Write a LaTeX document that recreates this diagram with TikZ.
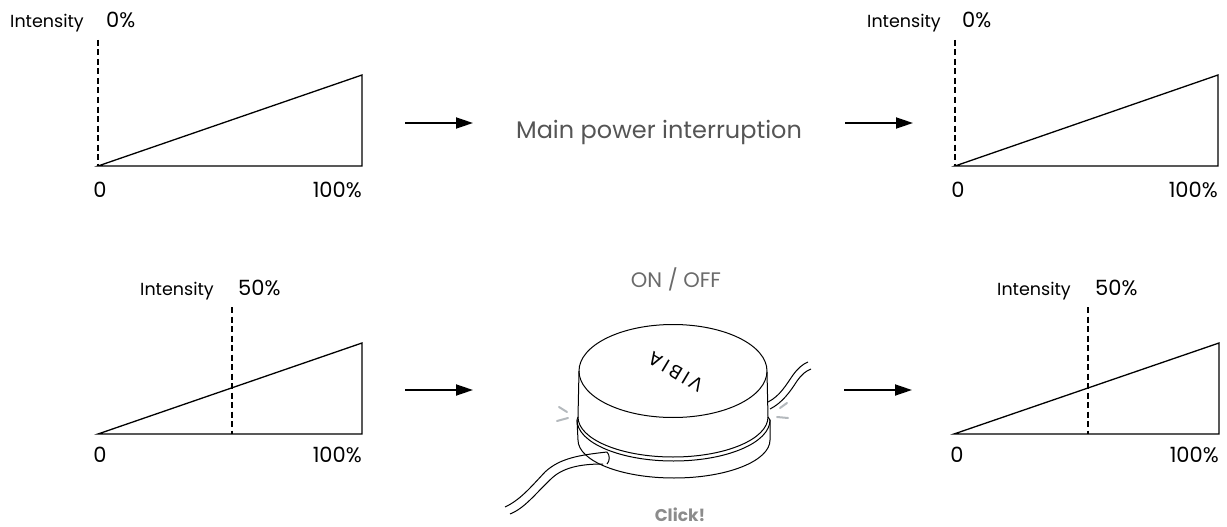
\documentclass[tikz,border=0pt]{standalone}
\usepackage{fontspec}
\setmainfont{Poppins}
\newfontfamily\logofont[LetterSpace=18]{Poppins}
\usetikzlibrary{arrows.meta}

\definecolor{txtgray}{HTML}{555555}
\definecolor{ongray}{HTML}{6A6A6A}
\definecolor{clickgray}{HTML}{8C8C8C}
\definecolor{tickgray}{HTML}{B4B9BD}

\tikzset{
  lbl/.style={font=\fontsize{17.5}{20}\selectfont, inner sep=0pt},
  num/.style={font=\fontsize{21}{24}\selectfont, inner sep=0pt},
  chart/.style={line width=1.3pt, line join=miter},
  cut/.style={line width=2.8pt, dash pattern=on 6pt off 3.5pt},
  arr/.style={line width=1.8pt, -{Triangle[length=17pt, width=11pt]}},
  dev/.style={line width=1pt},
  clicktick/.style={line width=2pt, draw=tickgray, line cap=round},
}

\begin{document}
\begin{tikzpicture}[x=1pt, y=1pt]
\useasboundingbox (0,0) rectangle (1227,-527);

% top left chart
\coordinate (a0) at (98,-166);
\coordinate (a1) at (362,-166);
\coordinate (a2) at (362,-75);
\coordinate (ad) at (98,-40);
\draw[chart] (a0) -- (a1) -- (a2) -- cycle;
\draw[cut] (ad) -- (a0);
\node[lbl, anchor=base west] (it1) at (10,-28) {Intensity};
\node[num, anchor=base west] (pc1) at (106,-28) {0\%};
\node[num, anchor=base] (lo1) at (100,-197) {0};
\node[num, anchor=base east] (hi1) at (362,-197) {100\%};

% top right chart
\coordinate (b0) at (955,-166);
\coordinate (b1) at (1218,-166);
\coordinate (b2) at (1218,-75);
\coordinate (bd) at (955,-40);
\draw[chart] (b0) -- (b1) -- (b2) -- cycle;
\draw[cut] (bd) -- (b0);
\node[lbl, anchor=base west] (it2) at (867,-28) {Intensity};
\node[num, anchor=base west] (pc2) at (962,-28) {0\%};
\node[num, anchor=base] (lo2) at (958,-197) {0};
\node[num, anchor=base east] (hi2) at (1218,-197) {100\%};

% bottom left chart
\coordinate (c0) at (98,-434);
\coordinate (c1) at (362,-434);
\coordinate (c2) at (362,-343);
\coordinate (cd) at (232,-307);
\coordinate (ce) at (232,-434);
\draw[chart] (c0) -- (c1) -- (c2) -- cycle;
\draw[cut] (cd) -- (ce);
\node[lbl, anchor=base west] (it3) at (140,-295) {Intensity};
\node[num, anchor=base west] (pc3) at (238,-295) {50\%};
\node[num, anchor=base] (lo3) at (100,-462) {0};
\node[num, anchor=base east] (hi3) at (362,-462) {100\%};

% bottom right chart
\coordinate (d0) at (954,-434);
\coordinate (d1) at (1219,-434);
\coordinate (d2) at (1219,-343);
\coordinate (dd) at (1088,-307);
\coordinate (de) at (1088,-434);
\draw[chart] (d0) -- (d1) -- (d2) -- cycle;
\draw[cut] (dd) -- (de);
\node[lbl, anchor=base west] (it4) at (997,-295) {Intensity};
\node[num, anchor=base west] (pc4) at (1095,-295) {50\%};
\node[num, anchor=base] (lo4) at (957,-462) {0};
\node[num, anchor=base east] (hi4) at (1219,-462) {100\%};

% arrows
\coordinate (r1s) at (405,-123);
\coordinate (r1e) at (473,-123);
\coordinate (r2s) at (845,-123);
\coordinate (r2e) at (913,-123);
\coordinate (r3s) at (405,-390);
\coordinate (r3e) at (473,-390);
\coordinate (r4s) at (844,-390);
\coordinate (r4e) at (912,-390);
\draw[arr] (r1s) -- (r1e);
\draw[arr] (r2s) -- (r2e);
\draw[arr] (r3s) -- (r3e);
\draw[arr] (r4s) -- (r4e);

\node[font=\fontsize{24}{28}\selectfont, text=txtgray, inner sep=0pt, anchor=base] (mpi) at (659,-138) {Main power interruption};

% switch
\node[font=\fontsize{21}{24}\selectfont, text=ongray, inner sep=0pt, anchor=base] (onoff) at (676,-287) {ON / OFF};
\node[font=\bfseries\fontsize{17}{20}\selectfont, text=clickgray, inner sep=0pt, anchor=base] (click) at (680,-521) {Click!};

\draw[dev] (673,-371) ellipse [x radius=94, y radius=46.5];
\draw[dev] (579,-371) -- (578,-417) -- (577,-420) -- (578,-440);
\draw[dev] (767,-372) -- (768,-417) -- (770,-420) -- (770,-440);
\draw[dev] (578,-417) arc [start angle=180, end angle=360, x radius=95, y radius=40];
\draw[dev] (577,-420) arc [start angle=180, end angle=360, x radius=96.5, y radius=41];
\draw[dev] (578,-440) arc [start angle=180, end angle=360, x radius=96, y radius=38];
\node[rotate=149, font=\logofont\fontsize{19}{19}\selectfont, inner sep=0pt] (logo) at (676,-372) {VIBIA};

% cables
\draw[dev] (607,-452) .. controls (580,-455) and (560,-458) .. (545,-472)
  .. controls (530,-488) and (520,-500) .. (505,-507);
\draw[dev] (603,-464) .. controls (585,-464) and (565,-466) .. (552,-478)
  .. controls (535,-494) and (525,-508) .. (510,-514);
\draw[dev] (607,-452) .. controls (610,-455) and (610,-461) .. (607,-464);
\draw[dev] (768,-402) .. controls (780,-396) and (786,-385) .. (793,-375)
  .. controls (798,-368) and (803,-364) .. (808,-362);
\draw[dev] (770,-409) .. controls (782,-403) and (790,-392) .. (797,-381)
  .. controls (802,-374) and (806,-371) .. (811,-369);

% clicks
\draw[clicktick] (559,-407) -- (567,-412);
\draw[clicktick] (557,-421) -- (568,-418);
\draw[clicktick] (787,-403) -- (780,-408);
\draw[clicktick] (777,-417) -- (788,-418);
\end{tikzpicture}
\end{document}
